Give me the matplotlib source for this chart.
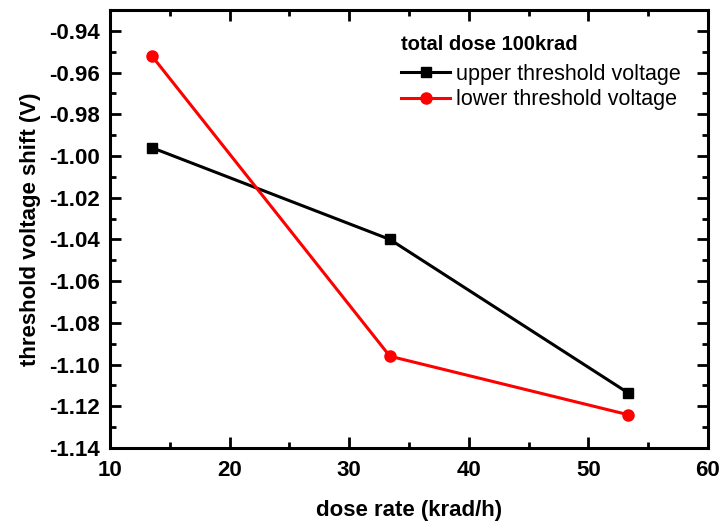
import matplotlib.pyplot as plt
from matplotlib.ticker import MultipleLocator

plt.rcParams['font.family'] = ['Liberation Sans', 'DejaVu Sans']

# dose rate (krad/h) and threshold voltage shift (V) at 100 krad total dose
dose_rate = [13.5, 33.4, 53.3]
upper_shift = [-0.996, -1.040, -1.1135]
lower_shift = [-0.952, -1.096, -1.124]

fig = plt.figure(figsize=(7.23, 5.25), dpi=100)
ax = fig.add_axes([110 / 723, 1 - 448 / 525, 598 / 723, 438 / 525])

ax.plot(dose_rate, upper_shift, color='black', lw=2.2, marker='s', ms=7,
        label='upper threshold voltage')
ax.plot(dose_rate, lower_shift, color='red', lw=2.2, marker='o', ms=8,
        label='lower threshold voltage')

ax.set_xlim(10, 60)
ax.set_ylim(-1.14, -0.93)
ax.xaxis.set_major_locator(MultipleLocator(10))
ax.xaxis.set_minor_locator(MultipleLocator(5))
ax.yaxis.set_major_locator(MultipleLocator(0.02))
ax.yaxis.set_minor_locator(MultipleLocator(0.01))
ax.yaxis.set_major_formatter(plt.FuncFormatter(lambda v, p: f'{v:.2f}'))

for s in ax.spines.values():
    s.set_linewidth(2.2)
ax.tick_params(which='both', direction='in', top=True, right=True, width=2)
ax.tick_params(which='major', length=8, labelsize=16)
ax.tick_params(axis='x', which='major', pad=9)
ax.tick_params(axis='y', which='major', pad=7)
ax.tick_params(which='minor', length=4.5)
for lbl in ax.get_xticklabels() + ax.get_yticklabels():
    lbl.set_fontweight('bold')

ax.set_xlabel('dose rate (krad/h)', fontsize=16, fontweight='bold', labelpad=13)
ax.set_ylabel('threshold voltage shift (V)', fontsize=16, fontweight='bold', labelpad=6)

leg = ax.legend(loc='upper left', bbox_to_anchor=(0.472, 0.962), frameon=False,
                title='total dose 100krad', fontsize=15.5, handlelength=2.3,
                handletextpad=0.25, labelspacing=0.2, borderaxespad=0)
leg.get_title().set_fontweight('bold')
leg.get_title().set_fontsize(14.5)
leg._legend_box.align = 'left'
leg._legend_box.sep = 7

fig.savefig('out.png', dpi=100)
